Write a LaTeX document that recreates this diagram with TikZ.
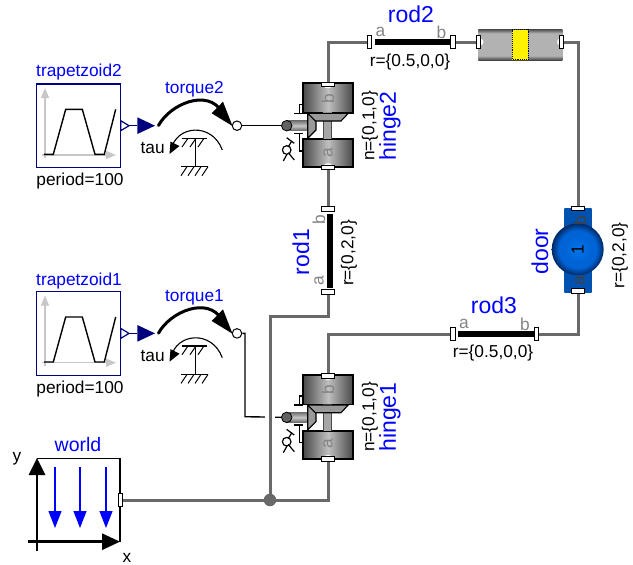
\documentclass[tikz,border=0pt]{standalone}
\usepackage{xcolor}
\usepackage{fontspec}
\setmainfont{Liberation Sans}
\usetikzlibrary{arrows.meta,positioning}
\definecolor{wiregray}{RGB}{105,105,105}
\definecolor{sourcenavy}{RGB}{0,0,127}
\definecolor{doorblue}{RGB}{0,100,215}
\definecolor{doorlight}{RGB}{0,118,235}
\definecolor{doordark}{RGB}{0,40,100}
\pgfdeclareradialshading{doorball}{\pgfpointorigin}{color(0bp)=(doorlight); color(12bp)=(doorblue); color(18bp)=(doorblue); color(25bp)=(doordark); color(50bp)=(doordark)}
\pgfdeclareverticalshading{slidershade}{100bp}{color(0bp)=(black!72); color(25bp)=(black!72); color(32bp)=(black!30); color(68bp)=(black!30); color(75bp)=(black!72); color(100bp)=(black!72)}
\pgfdeclarehorizontalshading{blockshade}{100bp}{color(0bp)=(black!72); color(25bp)=(black!72); color(50bp)=(black!25); color(75bp)=(black!72); color(100bp)=(black!72)}
\tikzset{
  lbl/.style={font=\fontsize{17.3}{18}\selectfont, inner sep=0pt},
  bigblue/.style={font=\fontsize{23}{24}\selectfont, inner sep=0pt, text=blue},
  smallblue/.style={lbl, text=blue},
  pinlbl/.style={lbl, text=black!48},
  wire/.style={draw=wiregray, line width=3pt},
  halo/.style={draw=white, line width=10pt},
  signal/.style={draw=black, line width=1.4pt},
  porth/.style={draw=black, fill=white, rectangle, minimum width=4.2pt, minimum height=13.5pt, inner sep=0pt, line width=1pt},
  portv/.style={draw=black, fill=white, rectangle, minimum width=13.5pt, minimum height=4.2pt, inner sep=0pt, line width=1pt},
  hingeblock/.pic={
    \shade[shading=blockshade] (-25.3,0) rectangle (25.3,29.4);
    \draw[black, line width=1.8pt] (-25.3,29.4) -- (-25.3,0) -- (25.3,0) -- (25.3,29.4) -- cycle;
    \shade[shading=blockshade] (-25.3,55.7) rectangle (25.3,84);
    \draw[black, line width=1.8pt] (-25.3,84) -- (-25.3,55.7) -- (25.3,55.7) -- (25.3,84) -- cycle;
    \fill[white] (0,3) ellipse (4 and 2);
    \fill[white] (0,82) ellipse (4 and 2);
    \fill[black!35] (-4.7,29) rectangle (3.7,55.7);
    \draw[black!70, line width=0.7pt] (-4.7,38) -- (-4.7,55.7) (3.7,38) -- (3.7,55.7);
    \draw[black, fill=black!40, line width=1.1pt] (-20.3,30) -- (20.3,30) -- (13,37.7) -- (-14.7,37.7) -- cycle;
    \shade[top color=black!55, bottom color=black!60, middle color=black!22] (-41.3,37.4) rectangle (-20.3,47.4);
    \draw[black, fill=black!40, line width=1.1pt] (-20.3,30) -- (-12,38.3) -- (-12,46.7) -- (-20.3,55) -- cycle;
    \draw[black, line width=1.1pt] (-24.7,21) -- (-28.7,21) -- (-28.7,30) (-33.7,30) -- (-24.7,30);
    \draw[black, line width=1.1pt] (-24.7,67.7) -- (-28.7,67.7) -- (-28.7,50) (-33.7,50) -- (-24.7,50);
    \draw[black, line width=1.2pt] (-41.3,66.7) circle (4.3);
    \draw[black, line width=1.2pt] (-41.3,54.4) -- (-33.7,60) (-39.7,63.4) -- (-36.3,58);
    \draw[black, line width=1.2pt] (-39.7,69.4) -- (-33.7,76.7) (-44.7,77.7) -- (-41,71);
    \node[draw=black, fill=black!62, circle, minimum size=10.5pt, inner sep=0pt, line width=0.8pt] (flange) at (-41.3,42.4) {};
    \node[portv] (top) at (0,1) {};
    \node[portv] (bot) at (0,84) {};
    \node[pinlbl, rotate=90] (pinb) at (0,15) {b};
    \node[pinlbl, rotate=90] (pina) at (0,69) {a};
  },
  rodh/.pic={
    \fill[black] (5,-3) rectangle (81,3);
    \node[porth] (a) at (0,0) {};
    \node[porth] (b) at (83.5,0) {};
    \node[pinlbl] (pina) at (11,-10) {a};
    \node[pinlbl] (pinb) at (72,-10) {b};
  },
  rodv/.pic={
    \fill[black] (-1.5,5) rectangle (4.7,79);
    \node[portv] (b) at (0,0) {};
    \node[portv] (a) at (0,83) {};
    \node[pinlbl, rotate=90] (pinb) at (-9,10.5) {b};
    \node[pinlbl, rotate=90] (pina) at (-9,72) {a};
  },
  drive/.pic={
    \draw[sourcenavy, fill=white, line width=1.4pt] (36.7,84) rectangle (120.7,167.7);
    \draw[-{Triangle[length=10pt,width=8pt]}, black!22, line width=1.4pt] (45,158) -- (45,88);
    \draw[-{Triangle[length=10pt,width=8pt]}, black!22, line width=1.4pt] (41.7,155) -- (116,155);
    \draw[signal] (44,154.3) -- (53.3,154.3) -- (65.7,109.3) -- (82.3,109.3) -- (95,154.3) -- (104.3,154.3) -- (115.7,109.3);
    \coordinate (srcout) at (129,125.7);
    \coordinate (tauin) at (137.3,125.7);
    \draw[sourcenavy, fill=white, line width=1.2pt] (120.7,120.7) -- (srcout) -- (120.7,130.7) -- cycle;
    \fill[sourcenavy] (137.3,117.3) -- (155,125.7) -- (137.3,134) -- cycle;
    \draw[sourcenavy, line width=1.2pt] (srcout) -- (tauin);
    \draw[black, line width=3pt, line cap=round] (158.5,125.5) .. controls (170,104) and (208,88) .. (222,112);
    \fill[black] (232.5,126) -- (211.7,113.3) -- (223,101.7) -- cycle;
    \node[draw=black, fill=white, circle, minimum size=9.5pt, inner sep=0pt, line width=1pt] (out) at (237,125.7) {};
    \draw[black, line width=1.1pt] (171,150) .. controls (176,125) and (212,122) .. (222.3,150);
    \fill[black] (169.5,154) -- (170.5,141.5) -- (179.5,146) -- cycle;
    \draw[black, line width=1.2pt] (181.7,138.3) -- (206.7,138.3);
    \draw[black, line width=1.2pt] (195.7,138.3) -- (195.7,166.7);
    \draw[black, line width=1.2pt] (181,166.7) -- (208.3,166.7);
    \foreach \x in {188,196,204}
      \draw[black, line width=1pt] (\x,138.3) -- (\x-6,147);
    \foreach \x in {187,194,201,208}
      \draw[black, line width=1pt] (\x,166.7) -- (\x-6,175.7);
  }
}
\begin{document}
\begin{tikzpicture}[x=1pt, y=-1pt]
\useasboundingbox (0,0) rectangle (633,565);
% sources with their torques
\pic (drive2) at (0,0) {drive};
\pic (drive1) at (0,207.7) {drive};
\node[smallblue] (trap2lbl) at (79,72.5) {trapetzoid2};
\node[smallblue] (trap1lbl) at (79,281) {trapetzoid1};
\node[lbl] (period2) at (80,181.5) {period=100};
\node[lbl] (period1) at (80,389.5) {period=100};
\node[smallblue] (torque2lbl) at (194.5,89) {torque2};
\node[smallblue] (torque1lbl) at (194.5,297) {torque1};
\node[lbl] (tau2) at (152.7,148) {tau};
\node[lbl] (tau1) at (152.7,356) {tau};
% joints
\pic (hinge2) at (328,83.3) {hingeblock};
\pic (hinge1) at (328,375) {hingeblock};
\node[lbl, rotate=90] (n2) at (370,126) {n=\{0,1,0\}};
\node[bigblue, rotate=90] (hinge2lbl) at (390,126) {hinge2};
\node[lbl, rotate=90] (n1) at (370,417) {n=\{0,1,0\}};
\node[bigblue, rotate=90] (hinge1lbl) at (390,417) {hinge1};
% rods
\pic (rod2) at (369.5,42) {rodh};
\pic (rod3) at (453,334) {rodh};
\pic (rod1) at (328,209) {rodv};
\node[bigblue] (rod2lbl) at (411,14) {rod2};
\node[lbl] (r2) at (410,62) {r=\{0.5,0,0\}};
\node[bigblue] (rod3lbl) at (494,305) {rod3};
\node[lbl] (r3) at (493,353) {r=\{0.5,0,0\}};
\node[bigblue, rotate=90] (rod1lbl) at (301,252) {rod1};
\node[lbl, rotate=90] (r1) at (349,253) {r=\{0,2,0\}};
% prismatic joint
\shade[shading=slidershade] (478.3,29) rectangle (562.3,60);
\fill[yellow] (512.3,29.5) rectangle (528.3,59.5);
\draw[black, densely dotted, line width=0.9pt] (512.3,29.5) rectangle (528.3,59.5);
\fill[white] (480,42) circle (3.5);
\fill[white] (560.5,42) circle (3.5);
\node[porth] (sliderl) at (478.5,42) {};
\node[porth] (sliderr) at (561.8,42) {};
% door
\shade[left color=doorblue!82!black, middle color=doorblue, right color=doorblue!82!black] (564.3,208.3) rectangle (591.7,292.3);
\shade[shading=doorball] (577.7,249.3) circle (26);
\node[portv] (doorb) at (578,208.7) {};
\node[portv] (doora) at (578,291) {};
\node[lbl, rotate=90, text=black!75] (doorbpin) at (580,220.7) {b};
\node[lbl, rotate=90, text=black!75] (doorapin) at (580,280.7) {a};
\node[lbl, rotate=90] (doorone) at (577.7,249.3) {1};
\node[bigblue, rotate=90] (doorlbl) at (540,251.5) {door};
\node[lbl, rotate=90] (r4) at (620,255.5) {r=\{0,2,0\}};
% world
\draw[black, line width=1.5pt] (36.7,458.3) -- (120,458.3) -- (120,541.7);
\draw[-{Triangle[length=17pt,width=16pt]}, line width=2.8pt] (37,551) -- (37,458);
\draw[-{Triangle[length=18pt,width=16pt]}, line width=2.8pt] (28,541.7) -- (120,541.7);
\foreach \x in {55,80,106}
  \draw[-{Triangle[length=17pt,width=13pt]}, blue, line width=1.3pt] (\x,467) -- (\x,528);
\node[porth] (worldport) at (120.5,500) {};
\node[smallblue, font=\fontsize{19.5}{20}\selectfont] (worldlbl) at (78,445) {world};
\node[lbl] (ylbl) at (17,459) {y};
\node[lbl] (xlbl) at (127,558) {x};
% connections
\coordinate (bend1) at (245,416.7);
\node[draw=none, fill=wiregray, circle, minimum size=12.5pt, inner sep=0pt] (junction) at (270,500) {};
\draw[signal] (drive2out) -- (hinge2flange);
\draw[signal] (drive1out) -| (bend1) -- (hinge1flange);
\draw[halo] (270,411) -- (270,423);
\draw[wire] (hinge2top) |- (rod2a);
\draw[wire] (rod2b) -- (sliderl);
\draw[wire] (sliderr) -| (doorb);
\draw[wire] (doora) |- (rod3b);
\draw[wire] (rod3a) -| (hinge1top);
\draw[wire] (hinge2bot) -- (rod1b);
\draw[wire] (rod1a) |- (junction |- 0,316.7) -- (junction);
\draw[wire] (worldport) -- (junction);
\draw[wire] (junction) -| (hinge1bot);
\end{tikzpicture}
\end{document}
